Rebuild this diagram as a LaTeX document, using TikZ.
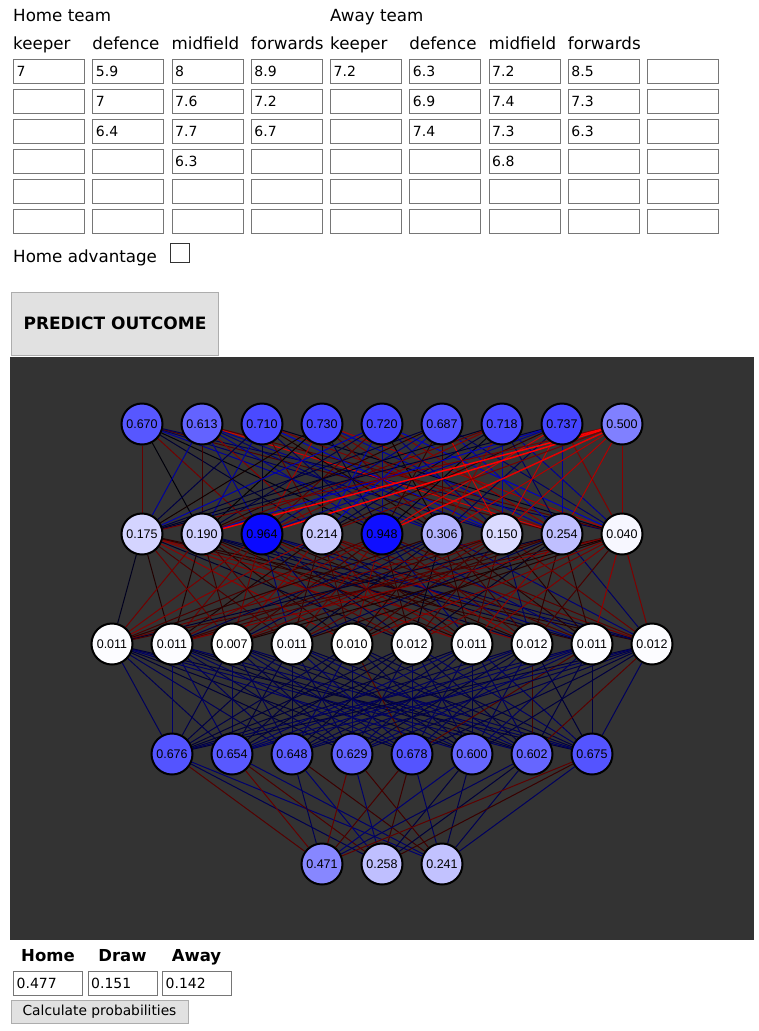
\documentclass[tikz,border=0pt]{standalone}
\usepackage{fontspec}
\setmainfont{DejaVu Sans}
\newfontfamily\netfont{Liberation Sans}

\definecolor{fundo}{HTML}{333333}
\definecolor{borda}{HTML}{767676}
\definecolor{botao}{HTML}{E1E1E1}
\definecolor{botaoborda}{HTML}{ADADAD}

\pgfdeclarelayer{bg}
\pgfdeclarelayer{edges}
\pgfsetlayers{bg,edges,main}

\tikzset{
  neur/.style={circle, draw=black, line width=2pt, minimum size=41pt, inner sep=0pt,
    font=\netfont\fontsize{12.5}{14}\selectfont},
  aresta/.style={line width=1pt},
  campo/.style={draw=borda, line width=1pt, anchor=north west, minimum width=71pt,
    minimum height=24pt, inner sep=0pt},
  valor/.style={anchor=west, inner sep=0pt, xshift=3.5pt, font=\fontsize{14}{16}\selectfont},
  rotulo/.style={anchor=base west, inner sep=0pt, font=\fontsize{16.7}{20}\selectfont},
  botaobox/.style={fill=botao, draw=botaoborda, line width=1pt, inner sep=0pt}
}

% ligacao com cor aleatoria: de, para, intensidade minima, maxima, chance de azul
\newcommand{\ligar}[5]{%
  \pgfmathtruncatemacro\forca{#3+(#4-#3)*rnd}%
  \pgfmathtruncatemacro\sinal{rnd<#5}%
  \ifnum\sinal=1
    \draw[aresta, draw=blue!\forca!black] (#1) -- (#2);%
  \else
    \draw[aresta, draw=red!\forca!black] (#1) -- (#2);%
  \fi}

\begin{document}
\begin{tikzpicture}[x=1pt, y=-1pt]
        \useasboundingbox (0,0) rectangle (758,1031);
        \pgfmathsetseed{5}

        % Fundo
        \begin{pgfonlayer}{bg}
          \fill[white] (0,0) rectangle (758,1031);
          \fill[fundo] (10,357) rectangle (754,940);
        \end{pgfonlayer}

        % Formulario das equipas
        \node[rotulo] (casa) at (13,21) {Home team};
        \node[rotulo] (fora) at (330,21) {Away team};
        \foreach \t [count=\c] in {keeper,defence,midfield,forwards,keeper,defence,midfield,forwards}
          \node[rotulo] (col\c) at ({13+79.25*(\c-1)},49) {\t};
        \foreach \c in {1,...,9}
          \foreach \r in {1,...,6}
            \node[campo] (t\c-\r) at ({13+79.25*(\c-1)},{59+29.9*(\r-1)}) {};
        \foreach \c/\r/\v in {1/1/7, 2/1/5.9, 2/2/7, 2/3/6.4, 3/1/8, 3/2/7.6, 3/3/7.7, 3/4/6.3,
            4/1/8.9, 4/2/7.2, 4/3/6.7, 5/1/7.2, 6/1/6.3, 6/2/6.9, 6/3/7.4,
            7/1/7.2, 7/2/7.4, 7/3/7.3, 7/4/6.8, 8/1/8.5, 8/2/7.3, 8/3/6.3}
          \node[valor] at (t\c-\r.west) {\v};

        \node[rotulo] (vant) at (13,262) {Home advantage};
        \node[draw=fundo, line width=1pt, minimum width=19pt, minimum height=19pt,
          inner sep=0pt] (caixa) at (180,253) {};

        \node[botaobox, minimum width=207pt, minimum height=63pt,
          font=\bfseries\fontsize{17}{20}\selectfont] (prever) at (115,323.5) {PREDICT OUTCOME};

        % Camadas da rede
        \foreach \v [count=\i] in {0.670,0.613,0.710,0.730,0.720,0.687,0.718,0.737,0.500}{
          \pgfmathtruncatemacro\p{\v*100}
          \node[neur, fill=blue!\p!white] (a\i) at ({142+60*(\i-1)},424) {\v};
        }
        \foreach \v [count=\i] in {0.175,0.190,0.964,0.214,0.948,0.306,0.150,0.254,0.040}{
          \pgfmathtruncatemacro\p{\v*100}
          \node[neur, fill=blue!\p!white] (b\i) at ({142+60*(\i-1)},534) {\v};
        }
        \foreach \v [count=\i] in {0.011,0.011,0.007,0.011,0.010,0.012,0.011,0.012,0.011,0.012}{
          \pgfmathtruncatemacro\p{\v*100}
          \node[neur, fill=blue!\p!white] (c\i) at ({112+60*(\i-1)},644) {\v};
        }
        \foreach \v [count=\i] in {0.676,0.654,0.648,0.629,0.678,0.600,0.602,0.675}{
          \pgfmathtruncatemacro\p{\v*100}
          \node[neur, fill=blue!\p!white] (d\i) at ({172+60*(\i-1)},754) {\v};
        }
        \foreach \v [count=\i] in {0.471,0.258,0.241}{
          \pgfmathtruncatemacro\p{\v*100}
          \node[neur, fill=blue!\p!white] (e\i) at ({322+60*(\i-1)},864) {\v};
        }

        % Ligacoes entre camadas
        \begin{pgfonlayer}{edges}
          \foreach \i in {1,...,8}{
            \foreach \j in {1,...,9}{\ligar{a\i}{b\j}{0}{85}{0.6}}
          }
          \foreach \j/\k/\w in {1/45/1, 2/100/1.5, 3/100/1.5, 4/45/1, 5/90/1.5, 6/70/1, 7/70/1, 8/70/1, 9/55/1}
            \draw[aresta, line width=\w pt, draw=red!\k!black] (a9) -- (b\j);
          \foreach \i in {1,...,9}{
            \foreach \j in {1,...,10}{\ligar{b\i}{c\j}{10}{60}{0.3}}
          }
          \foreach \i in {1,...,10}{
            \foreach \j in {1,...,8}{\ligar{c\i}{d\j}{22}{42}{0.96}}
          }
          \foreach \i in {1,...,8}{
            \foreach \j in {1,...,3}{\ligar{d\i}{e\j}{22}{45}{0.5}}
          }
        \end{pgfonlayer}

        % Resultado
        \node[anchor=base, inner sep=0pt, font=\bfseries\fontsize{16.5}{20}\selectfont] (rcasa) at (48,961) {Home};
        \node[anchor=base, inner sep=0pt, font=\bfseries\fontsize{16.5}{20}\selectfont] (rempate) at (122.5,961) {Draw};
        \node[anchor=base, inner sep=0pt, font=\bfseries\fontsize{16.5}{20}\selectfont] (rfora) at (196.5,961) {Away};
        \foreach \v [count=\i] in {0.477,0.151,0.142}{
          \node[campo, minimum width=69pt] (p\i) at ({13+74.5*(\i-1)},971) {};
          \node[valor] at (p\i.west) {\v};
        }
        \node[botaobox, minimum width=177pt, minimum height=23pt,
          font=\fontsize{13.8}{16}\selectfont] (calcular) at (99.5,1011.5) {Calculate probabilities};
\end{tikzpicture}
\end{document}
